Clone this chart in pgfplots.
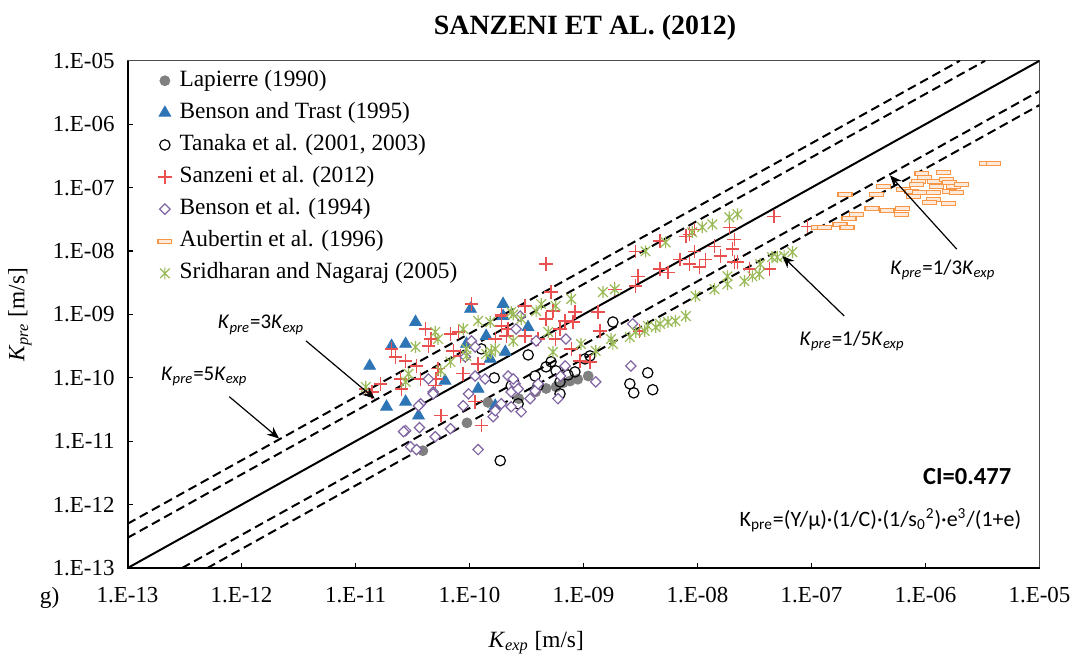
\documentclass[border=0pt]{standalone}
\usepackage{fontspec}
\setmainfont{Liberation Serif}
\newfontfamily\calibri{Carlito}
\usepackage{pgfplots}
\pgfplotsset{compat=1.18}
\usetikzlibrary{arrows.meta}

\definecolor{cLap}{RGB}{128,128,128}
\definecolor{cBT}{RGB}{46,117,182}
\definecolor{cSan}{RGB}{235,80,80}
\definecolor{cBen}{RGB}{128,100,162}
\definecolor{cAub}{RGB}{247,150,70}
\definecolor{cSri}{RGB}{155,187,89}

% Excel-like marks
\pgfdeclareplotmark{xstar}{%
  \pgfpathmoveto{\pgfqpoint{0pt}{\pgfplotmarksize}}%
  \pgfpathlineto{\pgfqpoint{0pt}{-\pgfplotmarksize}}%
  \pgfpathmoveto{\pgfqpoint{-0.8\pgfplotmarksize}{0.8\pgfplotmarksize}}%
  \pgfpathlineto{\pgfqpoint{0.8\pgfplotmarksize}{-0.8\pgfplotmarksize}}%
  \pgfpathmoveto{\pgfqpoint{-0.8\pgfplotmarksize}{-0.8\pgfplotmarksize}}%
  \pgfpathlineto{\pgfqpoint{0.8\pgfplotmarksize}{0.8\pgfplotmarksize}}%
  \pgfusepathqstroke}
\pgfdeclareplotmark{sqdiamond}{%
  \pgfpathmoveto{\pgfqpoint{0pt}{\pgfplotmarksize}}%
  \pgfpathlineto{\pgfqpoint{\pgfplotmarksize}{0pt}}%
  \pgfpathlineto{\pgfqpoint{0pt}{-\pgfplotmarksize}}%
  \pgfpathlineto{\pgfqpoint{-\pgfplotmarksize}{0pt}}%
  \pgfpathclose\pgfusepathqfillstroke}
\pgfdeclareplotmark{flatbar}{%
  \pgfpathrectangle{\pgfqpoint{-1.75\pgfplotmarksize}{-0.5\pgfplotmarksize}}%
    {\pgfqpoint{3.5\pgfplotmarksize}{\pgfplotmarksize}}%
  \pgfusepathqfillstroke}

\begin{document}
\begin{tikzpicture}
\begin{axis}[
  scale only axis, width=457.5pt, height=254.5pt,
  xmode=log, ymode=log,
  xmin=1e-13, xmax=1e-5, ymin=1e-13, ymax=1e-5,
  xtick={1e-13,1e-12,1e-11,1e-10,1e-9,1e-8,1e-7,1e-6,1e-5},
  xticklabels={1.E-13,1.E-12,1.E-11,1.E-10,1.E-09,1.E-08,1.E-07,1.E-06,1.E-05},
  ytick={1e-13,1e-12,1e-11,1e-10,1e-9,1e-8,1e-7,1e-6,1e-5},
  yticklabels={1.E-13,1.E-12,1.E-11,1.E-10,1.E-09,1.E-08,1.E-07,1.E-06,1.E-05},
  xminorticks=false, yminorticks=false,
  tick pos=left, tick align=inside, major tick length=2.5pt,
  tick style={black, line width=0.6pt},
  axis line style={gray!60!black, line width=0.6pt},
  tick label style={font=\fontsize{11.5}{13}\selectfont},
  xticklabel shift=6pt, yticklabel shift=3pt,
  legend style={at={(0.031,0.986)}, anchor=north west, draw=none, fill=none,
    font=\fontsize{11.7}{13}\selectfont, row sep=3.6pt, inner sep=0pt,
    nodes={inner sep=1pt, text height=8pt, text depth=2.5pt}},
  legend cell align=left,
  legend image code/.code={\path (-4pt,0pt) (6pt,0pt);\draw[#1] plot coordinates {(0pt,0pt)};},
]
% Lapierre (1990)
\addplot[only marks, mark=*, mark size=2.5pt, draw=cLap, fill=cLap] coordinates {
(3.9e-11,7.1e-12) (9.5e-11,1.95e-11) (1.45e-10,4.1e-11) (2.7e-10,4.7e-11)
(3.8e-10,6.0e-11) (4.7e-10,6.8e-11) (5.75e-10,7.2e-11) (6.6e-10,8.3e-11)
(7.6e-10,8.9e-11) (8.9e-10,9.5e-11) (1.1e-9,1.07e-10)};
\addlegendentry{Lapierre (1990)}
% Benson and Trast (1995)
\addplot[only marks, mark=triangle*, mark size=3.4pt, draw=cBT, fill=cBT] coordinates {
(1.97e-10,1.46e-9) (1.02e-10,1.22e-9) (3.36e-11,7.6e-10) (2.07e-11,3.18e-10)
(2.75e-11,3.43e-10) (1.33e-11,1.54e-10) (1.87e-11,3.5e-11) (2.75e-11,4.2e-11)
(3.57e-11,2.53e-11) (6.1e-11,8.97e-11) (1.19e-10,6.7e-11) (1.52e-10,1.99e-10)
(9.4e-11,3.43e-10) (3.26e-10,6.3e-10) (1.68e-10,3.63e-11) (1.97e-10,9.4e-10)
(1.4e-10,4.57e-10) (2.06e-10,2.56e-10)};
\addlegendentry{Benson and Trast (1995)}
% Tanaka et al. (2001, 2003)
\addplot[only marks, mark=o, mark size=2.6pt, draw=black, line width=0.6pt] coordinates {
(1.27e-10,2.86e-10) (1.65e-10,1.0e-10) (1.86e-10,4.95e-12) (2.32e-10,7.5e-11)
(2.67e-10,3.9e-11) (3.27e-10,2.3e-10) (3.76e-10,1.07e-10) (3.99e-10,7.5e-11)
(4.69e-10,1.49e-10) (5.19e-10,1.79e-10) (5.74e-10,1.29e-10) (6.22e-10,8.65e-11)
(6.22e-10,5.6e-11) (7.31e-10,1.11e-10) (8.41e-10,1.24e-10) (1.03e-9,1.99e-10)
(1.14e-9,2.22e-10) (1.81e-9,7.6e-10) (2.55e-9,8.05e-11) (2.76e-9,5.8e-11)
(3.66e-9,1.2e-10) (4.05e-9,6.5e-11)};
\addlegendentry{Tanaka et al. (2001, 2003)}
% Sanzeni et al. (2012)
\addplot[only marks, mark=+, mark size=3.4pt, draw=cSan, line width=0.7pt] coordinates {
(1.04e-10,1.46e-9) (1.9e-10,1.0e-9) (4.1e-11,5.9e-10) (6.8e-11,4.9e-10)
(1.9e-10,6.6e-10) (2.18e-10,5.9e-10) (2.07e-11,2.86e-10) (2.25e-11,2.14e-10)
(2.75e-11,1.85e-10) (3.43e-11,1.54e-10) (4.6e-11,4.1e-10) (4.36e-11,3.18e-10)
(7.2e-11,2.66e-10) (8.3e-11,2.22e-10) (5.3e-11,1.39e-10) (5.1e-11,9.6e-11)
(8.8e-11,1.16e-10) (2.48e-11,9.6e-11) (2.53e-11,6.7e-11) (3.72e-11,9.6e-11)
(1.66e-11,8.05e-11) (1.39e-11,6.0e-11) (1.23e-11,6.7e-11) (1.19e-10,1.66e-10)
(1.68e-10,4.1e-10) (3.07e-10,4.57e-10) (5.6e-11,2.53e-11) (1.27e-10,1.76e-11)
(1.12e-10,4.2e-11) (5.0e-11,7.5e-11) (4.7e-10,6.2e-9) (8.0e-11,5.3e-10)
(3.07e-10,1.36e-9) (5.2e-10,2.25e-9) (5.4e-10,1.13e-9) (4.7e-10,8.5e-10)
(8.4e-10,1.09e-9) (8.1e-10,7.6e-10) (1.34e-9,1.09e-9) (1.39e-9,5.5e-10)
(1.9e-10,9.4e-10) (2.1e-10,4.57e-10) (7.8e-10,2.86e-10) (4.0e-10,4.1e-10)
(5.7e-10,4.1e-10) (2.87e-9,9.9e-9) (2.87e-9,2.8e-9) (1.88e-9,2.5e-9)
(6.9e-10,7.9e-10) (9.3e-10,1.85e-10) (1.14e-9,1.79e-10) (3.11e-9,5.5e-10)
(6.2e-10,5.9e-10) (4.7e-8,3.52e-8) (9.2e-8,2.45e-8) (1.9e-8,2.37e-8)
(2.1e-8,1.53e-8) (2.02e-8,1.07e-8) (1.41e-8,1.19e-8) (1.59e-8,8.3e-9)
(2.1e-8,6.7e-9) (2.24e-8,6.7e-9) (9.4e-9,9.9e-9) (1.17e-8,7.4e-9)
(7.0e-9,7.4e-9) (8.5e-9,6.2e-9) (1.04e-8,5.6e-9) (4.7e-9,5.2e-9)
(5.5e-9,4.6e-9) (4.7e-9,1.43e-8) (8.5e-9,1.84e-8) (9.4e-9,2.2e-8)
(7.9e-9,1.71e-8) (3.0e-9,4.0e-9) (2.85e-8,5.2e-9) (4.3e-8,5.2e-9)};
\addlegendentry{Sanzeni et al. (2012)}
% Benson et al. (1994)
\addplot[only marks, mark=sqdiamond, mark size=2.6pt, draw=cBen, fill=white, line width=0.6pt] coordinates {
(2.75e-11,1.47e-11) (3.64e-11,1.64e-11) (3.04e-11,8.2e-12) (3.43e-11,7.4e-12)
(5.0e-11,1.18e-11) (6.8e-11,1.58e-11) (8.8e-11,3.63e-11) (9.8e-11,5.6e-11)
(3.72e-11,3.9e-11) (4.8e-11,6.0e-11) (1.19e-10,7.4e-12) (1.61e-10,2.44e-11)
(1.9e-10,3.9e-11) (2.32e-10,3.5e-11) (2.84e-10,2.92e-11) (2.32e-10,6.0e-11)
(2.51e-10,8.05e-11) (3.76e-10,6.25e-11) (4.0e-10,8.05e-11) (5.97e-10,4.7e-11)
(2.78e-10,9.4e-10) (1.04e-10,3.82e-10) (1.12e-10,3.07e-10) (9.2e-11,2.14e-10)
(1.12e-10,1.07e-10) (1.37e-10,9.6e-11) (4.36e-11,9.6e-11) (4.8e-11,5.6e-11)
(3.57e-11,3.63e-11) (2.64e-11,1.42e-11) (1.68e-10,3.03e-11) (2.18e-10,1.07e-10)
(2.42e-10,9.6e-11) (2.67e-10,6.7e-11) (3.4e-10,4.7e-11) (2.56e-10,5.9e-10)
(3.84e-10,3.82e-10) (7.0e-10,4.1e-10) (2.7e-9,7.1e-10) (2.6e-9,1.54e-10)
(1.28e-9,8.65e-11) (6.9e-10,1.54e-10) (6.3e-10,1.07e-10)};
\addlegendentry{Benson et al. (1994)}
% Aubertin et al. (1996)
\addplot[only marks, mark=flatbar, mark size=2pt, draw=cAub, fill=cAub!20, line width=0.6pt] coordinates {
(1.97e-7,7.8e-8) (3.74e-7,7.8e-8) (4.3e-7,1.04e-7) (6.4e-7,9.4e-8)
(9.3e-7,1.67e-7) (9.8e-7,1.45e-7) (1.44e-6,1.73e-7) (8.7e-7,1.25e-7)
(8.4e-7,1.12e-7) (1.2e-6,1.25e-7) (1.53e-6,1.35e-7) (1.25e-6,1.04e-7)
(1.63e-6,1.21e-7) (1.76e-6,1.04e-7) (2.07e-6,1.12e-7) (7.6e-7,8.7e-8)
(8.9e-7,8.4e-8) (7.9e-7,7.3e-8) (1.18e-6,8.4e-8) (1.63e-6,8.7e-8)
(1.87e-6,8.4e-8) (1.18e-6,6.5e-8) (1.09e-6,5.85e-8) (1.6e-6,5.65e-8)
(3.39e-7,4.7e-8) (4.6e-7,4.4e-8) (6.3e-7,4.7e-8) (6.2e-7,3.8e-8)
(2.5e-7,3.8e-8) (2.13e-7,3.28e-8) (1.78e-7,2.64e-8) (2.05e-7,2.37e-8)
(1.16e-7,2.37e-8) (1.31e-7,2.37e-8) (3.43e-6,2.4e-7) (3.95e-6,2.4e-7)};
\addlegendentry{Aubertin et al. (1996)}
% Sridharan and Nagaraj (2005)
\addplot[only marks, mark=xstar, mark size=3pt, draw=cSri, line width=0.6pt] coordinates {
(2.24e-8,3.8e-8) (1.9e-8,3.4e-8) (1.35e-8,2.64e-8) (1.1e-8,2.37e-8)
(9.0e-9,1.98e-8) (5.25e-9,1.37e-8) (3.5e-9,9.9e-9) (1.88e-9,2.5e-9)
(1.48e-9,2.25e-9) (6.8e-8,9.6e-9) (5.75e-8,8.3e-9) (5.0e-8,8.0e-9)
(4.5e-8,8.0e-9) (3.55e-8,6.2e-9) (3.48e-8,4.3e-9) (3.03e-8,4.0e-9)
(2.58e-8,3.35e-9) (1.83e-8,4.0e-9) (1.83e-8,3.0e-9) (1.41e-8,2.5e-9)
(9.6e-9,1.95e-9) (7.9e-9,9.4e-10) (6.4e-9,7.9e-10) (5.5e-9,7.6e-10)
(4.7e-9,7.1e-10) (3.66e-9,6.6e-10) (7.8e-10,1.75e-9) (9.5e-10,3.43e-10)
(1.28e-9,2.66e-10) (1.74e-9,4.1e-10) (1.81e-9,3.43e-10) (2.55e-9,4.4e-10)
(2.87e-9,5.3e-10) (3.44e-9,5.5e-10) (4.3e-9,6.3e-10) (5.7e-10,1.36e-9)
(4.25e-10,1.46e-9) (3.84e-10,1.13e-9) (1.19e-10,7.9e-10) (1.52e-10,7.6e-10)
(2.42e-10,1.0e-9) (2.84e-10,8.5e-10) (4.9e-10,5.3e-10) (8.8e-11,5.9e-10)
(1.55e-10,2.56e-10) (5.4e-10,2.56e-10) (9.4e-11,2.86e-10) (5.0e-11,5.3e-10)
(5.3e-11,4.1e-10) (2.32e-10,1.09e-9) (2.42e-10,3.82e-10) (1.68e-10,2.86e-10)
(1.4e-10,2.38e-10) (9.4e-11,2.22e-10) (6.8e-11,1.79e-10) (5.6e-11,1.29e-10)
(3.36e-11,3.07e-10) (2.92e-11,1.16e-10) (2.75e-11,8.65e-11) (1.23e-11,7.2e-11)};
\addlegendentry{Sridharan and Nagaraj (2005)}
% reference lines: Kpre = 5, 3, 1, 1/3, 1/5 Kexp
\addplot[forget plot, black, line width=1pt, dash pattern=on 4.5pt off 2.5pt] coordinates {(1e-13,5e-13) (2e-6,1e-5)};
\addplot[forget plot, black, line width=1pt, dash pattern=on 4.5pt off 2.5pt] coordinates {(1e-13,3e-13) (3.333e-6,1e-5)};
\addplot[forget plot, black, line width=1pt] coordinates {(1e-13,1e-13) (1e-5,1e-5)};
\addplot[forget plot, black, line width=1pt, dash pattern=on 4.5pt off 2.5pt] coordinates {(3e-13,1e-13) (1e-5,3.333e-6)};
\addplot[forget plot, black, line width=1pt, dash pattern=on 4.5pt off 2.5pt] coordinates {(5e-13,1e-13) (1e-5,2e-6)};
\end{axis}
% frame: dark left and bottom axis lines
\draw[black, line width=1pt] (0,254.5pt) -- (0,0) -- (457.5pt,0);
% annotations
\begin{scope}[font=\calibri\fontsize{10.5}{12}\selectfont]
\node at (38.5pt,96pt) {\textit{K}\textsubscript{\textit{pre}}=5\textit{K}\textsubscript{\textit{exp}}};
\node at (67pt,122pt) {\textit{K}\textsubscript{\textit{pre}}=3\textit{K}\textsubscript{\textit{exp}}};
\node at (363.5pt,114pt) {\textit{K}\textsubscript{\textit{pre}}=1/5\textit{K}\textsubscript{\textit{exp}}};
\node at (409pt,149.5pt) {\textit{K}\textsubscript{\textit{pre}}=1/3\textit{K}\textsubscript{\textit{exp}}};
\end{scope}
\draw[-{Stealth[length=6pt,width=5pt]}, line width=0.6pt] (51pt,86pt) -- (76pt,65pt);
\draw[-{Stealth[length=6pt,width=5pt]}, line width=0.6pt] (89.5pt,114pt) -- (124pt,85pt);
\draw[-{Stealth[length=6pt,width=5pt]}, line width=0.6pt] (359.5pt,126.5pt) -- (328.5pt,156.5pt);
\draw[-{Stealth[length=6pt,width=5pt]}, line width=0.6pt] (416pt,160pt) -- (382.5pt,197pt);
\node[anchor=east, inner sep=0pt, font=\calibri\bfseries\fontsize{12.3}{14}\selectfont] at (443.5pt,46pt) {CI=0.477};
\node[anchor=east, inner sep=0pt, font=\calibri\fontsize{11}{13}\selectfont] at (448.5pt,24pt)
  {K\textsubscript{pre}=(Υ/µ)·(1/C)·(1/s\textsubscript{0}\textsuperscript{2})·e\textsuperscript{3}/(1+e)};
% titles and labels
\node[font=\bfseries\fontsize{14}{16}\selectfont] at (229.5pt,271pt) {SANZENI ET AL. (2012)};
\node[font=\fontsize{11.7}{13}\selectfont] at (205pt,-37.5pt) {\textit{K}\textsubscript{\textit{exp}} [m/s]};
\node[font=\fontsize{11.7}{13}\selectfont, rotate=90] at (-54pt,127pt) {\textit{K}\textsubscript{\textit{pre}} [m/s]};
\node[anchor=west, font=\fontsize{11.7}{13}\selectfont] at (-47.5pt,-15pt) {g)};
% page extent
\path (-64pt,-44.5pt) rectangle (474.5pt,285pt);
\end{tikzpicture}
\end{document}
